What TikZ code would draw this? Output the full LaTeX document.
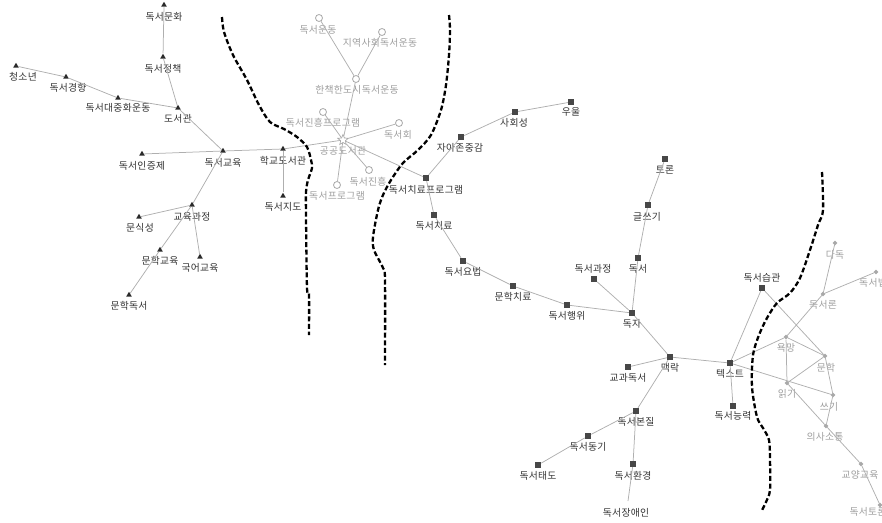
\documentclass[tikz,border=0pt]{standalone}
\usepackage{fontspec}
\newfontfamily\krfont[LetterSpace=3]{Noto Sans CJK KR}
\usetikzlibrary{shapes.geometric}
\definecolor{edgec}{HTML}{AFAFAF}
\definecolor{markc}{HTML}{2A2A2A}
\definecolor{sqc}{HTML}{474747}
\definecolor{grayc}{HTML}{A8A8A8}
\definecolor{darkt}{HTML}{333333}
\definecolor{grayt}{HTML}{9E9E9E}
\newcommand\lblfont{\krfont\fontsize{9.8}{11}\selectfont}
\tikzset{
 edge/.style={draw=edgec, line width=0.75pt},
 trim/.style={regular polygon, regular polygon sides=3, fill=markc, inner sep=0pt, minimum size=6.5pt},
 sqm/.style={rectangle, fill=sqc, inner sep=0pt, minimum size=6pt},
 cirm/.style={circle, draw=grayc, line width=0.8pt, fill=white, inner sep=0pt, minimum size=7pt},
 dotm/.style={diamond, fill=grayc, inner sep=0pt, minimum size=5pt},
 starm/.style={star, star points=5, star point ratio=2.2, draw=grayc, line width=0.7pt, inner sep=0pt, minimum size=11pt},
 dk/.style={text=darkt, font=\lblfont, inner sep=0pt},
 gr/.style={text=grayt, font=\lblfont, inner sep=0pt},
 bnd/.style={draw=black, line width=2.3pt, dash pattern=on 5pt off 2.6pt},
}
\begin{document}
\begin{tikzpicture}[x=1pt,y=-1pt]
\useasboundingbox (0,0) rectangle (882,522);
\begin{scope}
\clip (0,0) rectangle (882,522);
% ---------- left cluster (triangles) ----------
\node[trim] (a1) at (164,5) {};   \node[dk] (la1) at (164,17) {독서문화};
\node[trim] (a2) at (163,57) {};  \node[dk] (la2) at (163,69) {독서정책};
\node[trim] (a3) at (16,66) {};   \node[dk] (la3) at (23,77) {청소년};
\node[trim] (a4) at (66,77) {};   \node[dk] (la4) at (68,88) {독서경향};
\node[trim] (a5) at (118,98) {};  \node[dk] (la5) at (118,108) {독서대중화운동};
\node[trim] (a6) at (178,108) {}; \node[dk] (la6) at (178,119) {도서관};
\node[trim] (a7) at (223,151) {}; \node[dk] (la7) at (223,163) {독서교육};
\node[trim] (a8) at (142,154) {}; \node[dk] (la8) at (142,166) {독서인증제};
\node[trim] (a9) at (283,149) {}; \node[dk] (la9) at (283,161) {학교도서관};
\node[trim] (a10) at (283,196) {}; \node[dk] (la10) at (283,207) {독서지도};
\node[trim] (a11) at (192,205) {}; \node[dk] (la11) at (192,217) {교육과정};
\node[trim] (a12) at (139,217) {}; \node[dk] (la12) at (140,228) {문식성};
\node[trim] (a13) at (160,250) {}; \node[dk] (la13) at (160,261) {문학교육};
\node[trim] (a14) at (200,257) {}; \node[dk] (la14) at (200,268) {국어교육};
\node[trim] (a15) at (129,295) {}; \node[dk] (la15) at (129,306) {문학독서};
% ---------- middle gray cluster ----------
\node[cirm] (b1) at (319,18) {};  \node[gr] (lb1) at (318,30) {독서운동};
\node[cirm] (b2) at (382,32) {};  \node[gr] (lb2) at (380,43) {지역사회독서운동};
\node[cirm] (b3) at (356,79) {};  \node[gr] (lb3) at (357,90) {한책한도시독서운동};
\node[cirm] (b4) at (323,112) {}; \node[gr] (lb4) at (323,123) {독서진흥프로그램};
\node[cirm] (b5) at (399,123) {}; \node[gr] (lb5) at (398,135) {독서회};
\node[starm] (b6) at (343,140) {}; \node[gr] (lb6) at (343,151) {공공도서관};
\node[cirm] (b7) at (369,170) {}; \node[gr] (lb7) at (368,182) {독서진흥};
\node[cirm] (b8) at (337,185) {}; \node[gr] (lb8) at (337,196) {독서프로그램};
% ---------- dark square cluster ----------
\node[sqm] (c1) at (426,178) {}; \node[dk] (lc1) at (426,190) {독서치료프로그램};
\node[sqm] (c2) at (461,137) {}; \node[dk] (lc2) at (460,148) {자아존중감};
\node[sqm] (c3) at (515,112) {}; \node[dk] (lc3) at (514,123) {사회성};
\node[sqm] (c4) at (571,102) {}; \node[dk] (lc4) at (571,112) {우울};
\node[sqm] (c5) at (434,215) {}; \node[dk] (lc5) at (434,226) {독서치료};
\node[sqm] (c6) at (463,261) {}; \node[dk] (lc6) at (463,272) {독서요법};
\node[sqm] (c7) at (513,286) {}; \node[dk] (lc7) at (513,297) {문학치료};
\node[sqm] (c8) at (567,305) {}; \node[dk] (lc8) at (567,316) {독서행위};
\node[sqm] (c9) at (594,279) {}; \node[dk] (lc9) at (593,269) {독서과정};
\node[sqm] (c10) at (632,313) {}; \node[dk] (lc10) at (632,324) {독자};
\node[sqm] (c11) at (638,258) {}; \node[dk] (lc11) at (638,269) {독서};
\node[sqm] (c12) at (648,205) {}; \node[dk] (lc12) at (647,217) {글쓰기};
\node[sqm] (c13) at (665,159) {}; \node[dk] (lc13) at (665,170) {토론};
\node[sqm] (c14) at (670,357) {}; \node[dk] (lc14) at (670,368) {맥락};
\node[sqm] (c15) at (628,367) {}; \node[dk] (lc15) at (628,378) {교과독서};
\node[sqm] (c16) at (730,363) {}; \node[dk] (lc16) at (730,374) {텍스트};
\node[sqm] (c17) at (733,406) {}; \node[dk] (lc17) at (733,416) {독서능력};
\node[sqm] (c18) at (762,288) {}; \node[dk] (lc18) at (762,278) {독서습관};
\node[sqm] (c19) at (636,411) {}; \node[dk] (lc19) at (636,422) {독서본질};
\node[sqm] (c20) at (588,436) {}; \node[dk] (lc20) at (588,447) {독서동기};
\node[sqm] (c21) at (538,465) {}; \node[dk] (lc21) at (538,476) {독서태도};
\node[sqm] (c22) at (633,464) {}; \node[dk] (lc22) at (633,476) {독서환경};
\coordinate (c23) at (628,501);   \node[dk] (lc23) at (626,513) {독서장애인};
% ---------- right gray cluster ----------
\node[dotm] (d1) at (835,243) {}; \node[gr] (ld1) at (835,255) {다독};
\node[dotm] (d2) at (876,272) {}; \node[gr] (ld2) at (873,283) {독서법};
\node[dotm] (d3) at (823,294) {}; \node[gr] (ld3) at (823,305) {독서론};
\node[dotm] (d4) at (786,337) {}; \node[gr] (ld4) at (786,348) {욕망};
\node[dotm] (d5) at (825,356) {}; \node[gr] (ld5) at (826,368) {문학};
\node[dotm] (d6) at (787,383) {}; \node[gr] (ld6) at (787,394) {읽기};
\node[dotm] (d7) at (833,395) {}; \node[gr] (ld7) at (829,407) {쓰기};
\node[dotm] (d8) at (826,426) {}; \node[gr] (ld8) at (825,437) {의사소통};
\node[dotm] (d9) at (861,464) {}; \node[gr] (ld9) at (860,475) {교양교육};
\node[dotm] (d10) at (880,505) {}; \node[gr] (ld10) at (868,512) {독서토론};
% ---------- edges ----------
\draw[edge] (a1) -- (a2);
\draw[edge] (a2) -- (a6);
\draw[edge] (a3) -- (a4);
\draw[edge] (a4) -- (a5);
\draw[edge] (a5) -- (a6);
\draw[edge] (a6) -- (a7);
\draw[edge] (a8) -- (a7);
\draw[edge] (a7) -- (a9);
\draw[edge] (a9) -- (a10);
\draw[edge] (a9) -- (b6);
\draw[edge] (a7) -- (a11);
\draw[edge] (a11) -- (a12);
\draw[edge] (a11) -- (a13);
\draw[edge] (a11) -- (a14);
\draw[edge] (a13) -- (a15);
\draw[edge] (b1) -- (b3);
\draw[edge] (b2) -- (b3);
\draw[edge] (b3) -- (b6);
\draw[edge] (b4) -- (b6);
\draw[edge] (b5) -- (b6);
\draw[edge] (b6) -- (b7);
\draw[edge] (b6) -- (b8);
\draw[edge] (b6) -- (c1);
\draw[edge] (c1) -- (c2);
\draw[edge] (c2) -- (c3);
\draw[edge] (c3) -- (c4);
\draw[edge] (c1) -- (c5);
\draw[edge] (c5) -- (c6);
\draw[edge] (c6) -- (c7);
\draw[edge] (c7) -- (c8);
\draw[edge] (c8) -- (c10);
\draw[edge] (c9) -- (c10);
\draw[edge] (c11) -- (c10);
\draw[edge] (c12) -- (c11);
\draw[edge] (c13) -- (c12);
\draw[edge] (c10) -- (c14);
\draw[edge] (c15) -- (c14);
\draw[edge] (c14) -- (c16);
\draw[edge] (c14) -- (c19);
\draw[edge] (c19) -- (c20);
\draw[edge] (c20) -- (c21);
\draw[edge] (c19) -- (c22);
\draw[edge] (c22) -- (c23);
\draw[edge] (c16) -- (c17);
\draw[edge] (c16) -- (c18);
\draw[edge] (c16) -- (d4);
\draw[edge] (c16) -- (d7);
\draw[edge] (c18) -- (d5);
\draw[edge] (d1) -- (d3);
\draw[edge] (d2) -- (d3);
\draw[edge] (d3) -- (d4);
\draw[edge] (d4) -- (d5);
\draw[edge] (d4) -- (d6);
\draw[edge] (d6) -- (d5);
\draw[edge] (d5) -- (d7);
\draw[edge] (d6) -- (d8);
\draw[edge] (d7) -- (d8);
\draw[edge] (d8) -- (d9);
\draw[edge] (d9) -- (d10);
% ---------- dashed boundaries ----------
\draw[bnd] plot[smooth, tension=0.5] coordinates {(222,17) (224,32) (233,55) (247,80) (259,105) (270,122) (284,129) (297,137) (307,147) (311,160) (312,168) (308,180) (306,192) (306,215) (307,288) (309,295) (309,335)};
\draw[bnd] plot[smooth, tension=0.5] coordinates {(449,15) (450,30) (449,55) (446,85) (441,110) (431,135) (418,150) (403,163) (391,180) (383,195) (378,210) (373,237) (374,250) (383,268) (385,280) (385,365)};
\draw[bnd] plot[smooth, tension=0.5] coordinates {(822,172) (823,210) (818,225) (810,250) (800,278) (790,293) (777,303) (767,318) (759,335) (753,355) (752,387) (757,417) (763,428) (769,440) (770,460) (770,490) (766,502) (761,512)};
\end{scope}
\end{tikzpicture}
\end{document}
